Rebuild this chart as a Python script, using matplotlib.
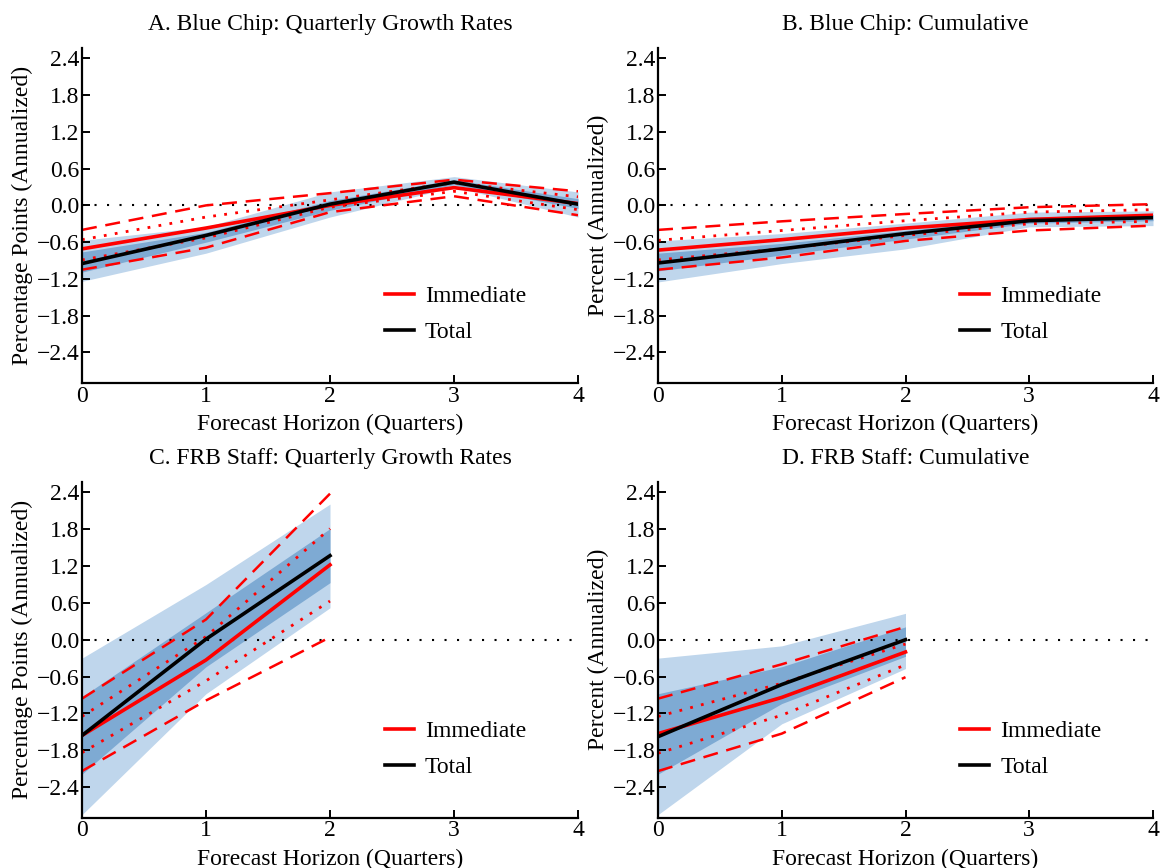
import numpy as np
import matplotlib
matplotlib.use("Agg")
import matplotlib.pyplot as plt

plt.rcParams['font.family'] = ['Liberation Serif', 'DejaVu Serif']
plt.rcParams['font.size'] = 17

# horizons
h_bc = [0, 1, 2, 3, 4]
h_frb = [0, 1, 2]

# A. Blue Chip quarterly growth rates
a_imm = [-0.71, -0.37, 0.00, 0.29, 0.03]
a_tot = [-0.95, -0.49, 0.02, 0.38, 0.02]
a_dash_hi = [-0.40, 0.00, 0.20, 0.42, 0.23]
a_dash_lo = [-1.05, -0.69, -0.11, 0.15, -0.16]
a_dot_hi = [-0.56, -0.19, 0.09, 0.37, 0.14]
a_dot_lo = [-0.89, -0.53, -0.03, 0.23, -0.07]
a_wide_hi = [-0.57, -0.35, 0.22, 0.47, 0.22]
a_wide_lo = [-1.24, -0.78, -0.19, 0.30, -0.19]
a_narrow_hi = [-0.76, -0.44, 0.08, 0.42, 0.11]
a_narrow_lo = [-1.09, -0.60, -0.08, 0.34, -0.05]

# B. Blue Chip cumulative
b_imm = [-0.73, -0.56, -0.37, -0.23, -0.16]
b_tot = [-0.94, -0.71, -0.46, -0.25, -0.20]
b_dash_hi = [-0.40, -0.26, -0.14, -0.03, 0.02]
b_dash_lo = [-1.05, -0.85, -0.58, -0.41, -0.33]
b_dot_hi = [-0.57, -0.41, -0.25, -0.11, -0.07]
b_dot_lo = [-0.89, -0.71, -0.49, -0.30, -0.26]
b_wide_hi = [-0.58, -0.46, -0.29, -0.11, -0.09]
b_wide_lo = [-1.25, -0.95, -0.71, -0.35, -0.33]
b_narrow_hi = [-0.78, -0.62, -0.41, -0.19, -0.15]
b_narrow_lo = [-1.07, -0.81, -0.55, -0.29, -0.25]

# C. FRB staff quarterly growth rates
c_imm = [-1.56, -0.33, 1.22]
c_tot = [-1.56, 0.01, 1.37]
c_dash_hi = [-0.96, 0.33, 2.38]
c_dash_lo = [-2.14, -0.99, 0.04]
c_dot_hi = [-1.25, 0.05, 1.81]
c_dot_lo = [-1.84, -0.67, 0.63]
c_wide_hi = [-0.30, 0.90, 2.21]
c_wide_lo = [-2.85, -0.88, 0.52]
c_narrow_hi = [-0.93, 0.44, 1.81]
c_narrow_lo = [-2.19, -0.44, 0.93]

# D. FRB staff cumulative
d_imm = [-1.53, -0.94, -0.20]
d_tot = [-1.58, -0.73, 0.00]
d_dash_hi = [-0.96, -0.40, 0.21]
d_dash_lo = [-2.14, -1.53, -0.61]
d_dot_hi = [-1.25, -0.71, -0.07]
d_dot_lo = [-1.85, -1.23, -0.41]
d_wide_hi = [-0.30, -0.10, 0.43]
d_wide_lo = [-2.85, -1.37, -0.47]
d_narrow_hi = [-0.88, -0.44, 0.21]
d_narrow_lo = [-2.19, -1.04, -0.27]

titles = ['A. Blue Chip: Quarterly Growth Rates', 'B. Blue Chip: Cumulative',
          'C. FRB Staff: Quarterly Growth Rates', 'D. FRB Staff: Cumulative']
ylabels = ['Percentage Points (Annualized)', 'Percent (Annualized)',
           'Percentage Points (Annualized)', 'Percent (Annualized)']
yticks = [-2.4, -1.8, -1.2, -0.6, 0.0, 0.6, 1.2, 1.8, 2.4]

panels = [
    (h_bc, a_imm, a_tot, a_dash_hi, a_dash_lo, a_dot_hi, a_dot_lo, a_wide_hi, a_wide_lo, a_narrow_hi, a_narrow_lo),
    (h_bc, b_imm, b_tot, b_dash_hi, b_dash_lo, b_dot_hi, b_dot_lo, b_wide_hi, b_wide_lo, b_narrow_hi, b_narrow_lo),
    (h_frb, c_imm, c_tot, c_dash_hi, c_dash_lo, c_dot_hi, c_dot_lo, c_wide_hi, c_wide_lo, c_narrow_hi, c_narrow_lo),
    (h_frb, d_imm, d_tot, d_dash_hi, d_dash_lo, d_dot_hi, d_dot_lo, d_wide_hi, d_wide_lo, d_narrow_hi, d_narrow_lo),
]

light_blue = '#bfd6ec'
dark_blue = '#7eaad3'

fig = plt.figure(figsize=(11.61, 8.68), dpi=100)
W, H = 1161.0, 868.0
boxes = [(82, 47.7, 496, 335.3), (658, 47.7, 495, 335.3),
         (82, 481.7, 496, 336), (658, 481.7, 495, 336)]

for i in range(4):
    x0, y0, w, h = boxes[i]
    ax = fig.add_axes([x0 / W, 1 - (y0 + h) / H, w / W, h / H])
    hz, imm, tot, dhi, dlo, thi, tlo, whi, wlo, nhi, nlo = panels[i]

    ax.fill_between(hz, wlo, whi, color=light_blue, lw=0)
    ax.fill_between(hz, nlo, nhi, color=dark_blue, lw=0)
    ax.plot([0, 4], [0, 0], color='black', lw=1.5, ls=(0, (1, 5)))
    ax.plot(hz, dhi, color='red', lw=1.8, ls=(0, (6, 3.5)))
    ax.plot(hz, dlo, color='red', lw=1.8, ls=(0, (6, 3.5)))
    ax.plot(hz, thi, color='red', lw=2, ls=(0, (1, 3)))
    ax.plot(hz, tlo, color='red', lw=2, ls=(0, (1, 3)))
    ax.plot(hz, imm, color='red', lw=2.6, label='Immediate')
    ax.plot(hz, tot, color='black', lw=2.6, label='Total')

    ax.set_xlim(0, 4)
    ax.set_ylim(-2.9, 2.575)
    ax.set_xticks([0, 1, 2, 3, 4])
    ax.set_yticks(yticks)
    ax.set_yticklabels(['%.1f' % v if v >= 0 else '\u2212%.1f' % -v for v in yticks])
    ax.spines['top'].set_visible(False)
    ax.spines['right'].set_visible(False)
    ax.spines['left'].set_linewidth(1.6)
    ax.spines['bottom'].set_linewidth(1.6)
    ax.tick_params(direction='in', length=6, width=1.4, labelsize=17, pad=2)
    ax.set_title(titles[i], fontsize=17, pad=13)
    ax.set_xlabel('Forecast Horizon (Quarters)', fontsize=17, labelpad=5)
    ax.set_ylabel(ylabels[i], fontsize=17)
    ax.yaxis.set_label_coords(-0.098, 0.5)

    ax.legend(loc='center left', bbox_to_anchor=(0.61, 0.204), frameon=False,
              borderpad=0, borderaxespad=0, handlelength=1.25, handletextpad=0.45,
              labelspacing=0.62, fontsize=17)

fig.savefig('out.png', dpi=100)
